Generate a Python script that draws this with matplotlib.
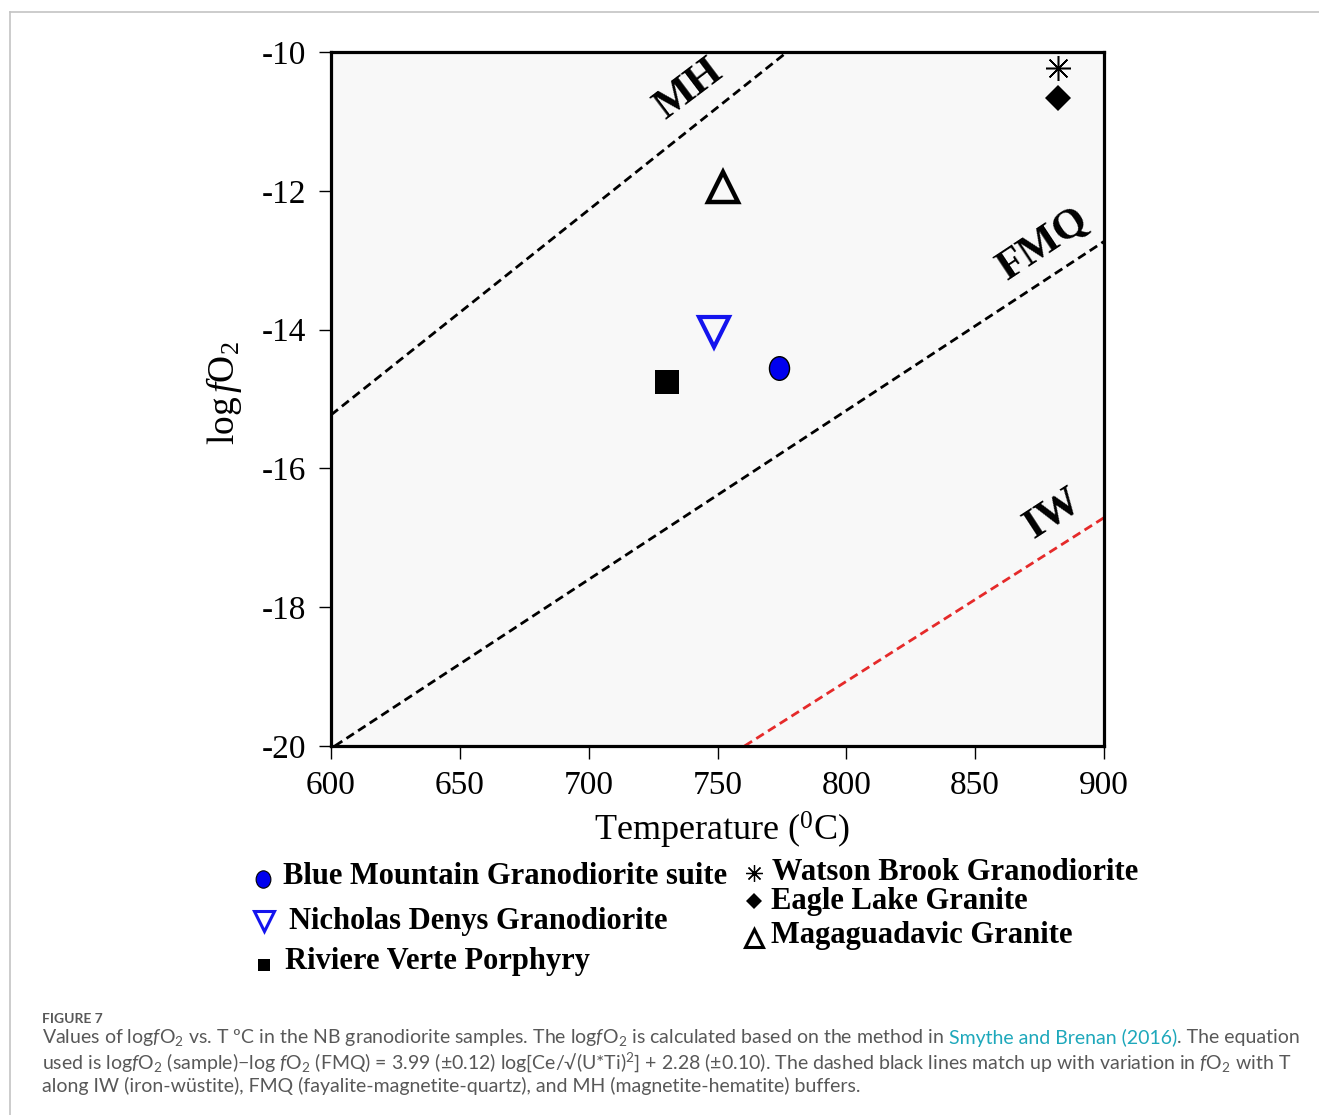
import matplotlib
matplotlib.use('Agg')
import matplotlib.pyplot as plt
from matplotlib.lines import Line2D
from matplotlib.path import Path
from matplotlib.transforms import Affine2D

plt.rcParams['mathtext.fontset'] = 'custom'
plt.rcParams['mathtext.rm'] = 'Liberation Serif'
plt.rcParams['mathtext.it'] = 'Liberation Serif:italic'
plt.rcParams['mathtext.sf'] = 'Lato'
plt.rcParams['mathtext.bf'] = 'Lato:italic'

SERIF = 'Liberation Serif'

# ---------------- data ----------------
groups = ["Blue Mountain Granodiorite suite", "Nicholas Denys Granodiorite",
          "Riviere Verte Porphyry", "Watson Brook Granodiorite",
          "Eagle Lake Granite", "Magaguadavic Granite"]
temperature = [774, 748.5, 730.5, 882, 882, 752]
log_fo2 = [-14.55, -14.03, -14.76, -10.23, -10.66, -11.95]

buffer_names = ["MH", "FMQ", "IW"]
buffer_T = [[600, 777], [601.5, 900], [760.5, 900]]
buffer_logfo2 = [[-15.23, -10.0], [-20.0, -12.73], [-20.0, -16.71]]
buffer_label_T = [739, 876.5, 880]
buffer_label_logfo2 = [-10.55, -12.78, -16.66]

xticks = [600, 650, 700, 750, 800, 850, 900]
yticks = [-10, -12, -14, -16, -18, -20]

# ---------------- styles ----------------
ellipse = Path.unit_circle().transformed(Affine2D().scale(0.85, 1.0))
plot_styles = [
    dict(marker=ellipse, ms=17, mfc='#0000ee', mec='black', mew=1.0),
    dict(marker='v', ms=21, mfc='none', mec='#1414ee', mew=3.0),
    dict(marker='s', ms=17, mfc='black', mec='black', mew=0),
    dict(marker=(8, 2, 0), ms=18, mfc='black', mec='black', mew=1.1),
    dict(marker='D', ms=13, mfc='black', mec='black', mew=0),
    dict(marker='^', ms=22, mfc='none', mec='black', mew=3.2),
]
leg_styles = [
    dict(marker=ellipse, ms=12.5, mfc='#0000ee', mec='black', mew=0.8),
    dict(marker='v', ms=14, mfc='none', mec='#1414ee', mew=2.2),
    dict(marker='s', ms=9, mfc='black', mec='black', mew=0),
    dict(marker=(8, 2, 0), ms=12, mfc='black', mec='black', mew=0.9),
    dict(marker='D', ms=8.5, mfc='black', mec='black', mew=0),
    dict(marker='^', ms=13, mfc='none', mec='black', mew=2.2),
]
buffer_colors = ['black', 'black', '#e52a2a']
buffer_rot = [37, 33.5, 33]

W, H = 1319, 1115
fig = plt.figure(figsize=(W / 100, H / 100), dpi=100)
fig.patch.set_facecolor('white')

def fx(px):
    return px / W

def fy(py):
    return 1 - py / H

ax = fig.add_axes([fx(331), fy(746), fx(1104) - fx(331), fy(52) - fy(746)])
ax.set_facecolor('#f8f8f8')

for name, ts, ys, c in zip(buffer_names, buffer_T, buffer_logfo2, buffer_colors):
    ax.plot(ts, ys, color=c, lw=2.0, linestyle=(0, (3.2, 1.8)), zorder=2)

for name, t, y, rot in zip(buffer_names, buffer_label_T, buffer_label_logfo2, buffer_rot):
    ax.text(t, y, name, family=SERIF, fontweight='bold', fontsize=31,
            rotation=rot, ha='center', va='center', rotation_mode='anchor', zorder=3)

for t, y, st in zip(temperature, log_fo2, plot_styles):
    ax.plot([t], [y], linestyle='none', zorder=4, **st)

ax.set_xlim(600, 900)
ax.set_ylim(-20, -10)
ax.set_xticks(xticks, labels=[str(v) for v in xticks])
ax.set_yticks(yticks, labels=[str(v) for v in yticks])
for lab in ax.get_xticklabels() + ax.get_yticklabels():
    lab.set_family(SERIF)
    lab.set_fontsize(24)
ax.tick_params(axis='x', direction='out', length=9, width=1.0, pad=9)
ax.tick_params(axis='y', direction='out', length=9, width=1.0, pad=9)
for sp in ax.spines.values():
    sp.set_linewidth(2.3)

fig.text(fx(224), fy(393), r"$\mathrm{log}\,\mathit{f}\mathrm{O}_{2}$", rotation=90,
         ha='center', va='center', fontsize=27)
fig.text(fx(722), fy(830), r"Temperature ($^{\mathrm{0}}$C)", family=SERIF,
         ha='center', va='center', fontsize=26)

# ---------------- legend ----------------
leg_marker_xy = [(263, 879), (264, 921), (264, 965), (754, 873), (754, 901), (754, 938)]
leg_text_xy = [(283, 877), (289, 922), (285, 962), (772, 873), (771, 901), (771, 936)]
for label, st, (mx, my), (tx, ty) in zip(groups, leg_styles, leg_marker_xy, leg_text_xy):
    fig.add_artist(Line2D([fx(mx)], [fy(my)], transform=fig.transFigure,
                          linestyle='none', **st))
    fig.text(fx(tx), fy(ty), label, family=SERIF, fontweight='bold', fontsize=22,
             ha='left', va='center')

# ---------------- frame and caption ----------------
border = '#c4c4c4'
fig.add_artist(Line2D([fx(10), fx(W)], [fy(11.5), fy(11.5)], transform=fig.transFigure,
                      color=border, lw=1.2))
fig.add_artist(Line2D([fx(10), fx(10)], [fy(11.5), fy(H)], transform=fig.transFigure,
                      color=border, lw=1.2))

cap_color = '#585858'
link_color = '#1ea8bb'
CAP = 'Lato'
CAP_SIZE = 14
fig.text(fx(42), fy(1019), "FIGURE 7", family=CAP, fontweight='bold', fontsize=10,
         color=cap_color, ha='left', va='center')

caption_lines = [
    [(r"Values of log$\mathbf{f}\mathsf{O_2}$ vs. T ºC in the NB granodiorite samples. "
      r"The log$\mathbf{f}\mathsf{O_2}$ is calculated based on the method in", cap_color),
     ("Smythe and Brenan (2016)", link_color),
     (". The equation", cap_color)],
    [(r"used is log$\mathbf{f}\mathsf{O_2}$ (sample)$\mathsf{-}$log $\mathbf{f}\mathsf{O_2}$ (FMQ) = 3.99 "
      r"(±0.12) log[Ce/√(U*Ti)$\mathsf{^2}$] + 2.28 (±0.10). The dashed black lines "
      r"match up with variation in $\mathbf{f}\mathsf{O_2}$ with T", cap_color)],
    [("along IW (iron-wüstite), FMQ (fayalite-magnetite-quartz), and MH "
      "(magnetite-hematite) buffers.", cap_color)],
]
gap_after = [[True, False, False], [False], [False]]
caption_y = [1038, 1062, 1086]
renderer = fig.canvas.get_renderer()
probe_a = fig.text(0, 0, "a a", family=CAP, fontsize=CAP_SIZE)
probe_b = fig.text(0, 0, "aa", family=CAP, fontsize=CAP_SIZE)
space_w = (probe_a.get_window_extent(renderer=renderer).width
           - probe_b.get_window_extent(renderer=renderer).width)
probe_a.remove()
probe_b.remove()
for pieces, gaps, py in zip(caption_lines, gap_after, caption_y):
    x = 42
    for (txt, col), gap in zip(pieces, gaps):
        t = fig.text(fx(x), fy(py), txt, family=CAP, fontsize=CAP_SIZE, color=col,
                     ha='left', va='center')
        bb = t.get_window_extent(renderer=renderer)
        x += bb.width + (space_w if gap else 0)

fig.savefig('out.png', dpi=100, facecolor='white')
